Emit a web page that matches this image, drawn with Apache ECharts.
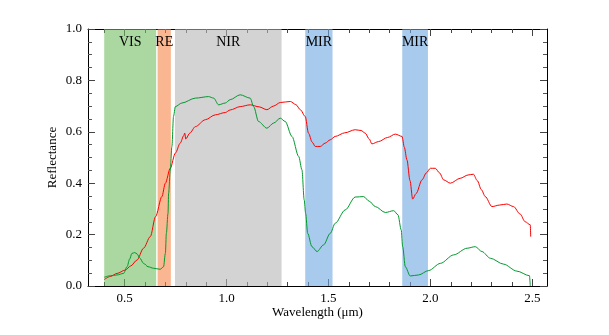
<!DOCTYPE html>
<html><head><meta charset="utf-8">
<script src="https://cdn.jsdelivr.net/npm/echarts@6/dist/echarts.min.js"></script>
<style>html,body{margin:0;padding:0;background:#fff}#c{width:609px;height:335px}</style>
</head><body><div id="c"></div>
<script>
// ---- data ----
const redWl = [0.40,0.43,0.463,0.503,0.53,0.561,0.593,0.626,0.652,0.683,0.70,0.724,0.749,0.773,0.79,0.795,0.80,0.82,0.847,0.896,0.945,0.994,1.018,1.067,1.116,1.16,1.198,1.23,1.264,1.313,1.34,1.362,1.386,1.402,1.42,1.435,1.46,1.484,1.509,1.533,1.58,1.631,1.66,1.68,1.70,1.713,1.746,1.79,1.828,1.861,1.872,1.885,1.90,1.913,1.93,1.959,1.98,2.0,2.024,2.045,2.065,2.098,2.146,2.185,2.211,2.23,2.25,2.269,2.302,2.34,2.375,2.408,2.44,2.465,2.49,2.492];
const redR  = [0.025,0.037,0.049,0.062,0.078,0.101,0.147,0.192,0.27,0.348,0.40,0.458,0.517,0.556,0.585,0.595,0.572,0.595,0.62,0.647,0.666,0.675,0.685,0.698,0.705,0.697,0.686,0.70,0.714,0.718,0.706,0.686,0.66,0.595,0.56,0.543,0.543,0.556,0.569,0.582,0.596,0.608,0.605,0.595,0.572,0.553,0.562,0.578,0.591,0.582,0.54,0.491,0.41,0.338,0.36,0.413,0.44,0.458,0.458,0.44,0.413,0.40,0.419,0.432,0.435,0.41,0.375,0.348,0.309,0.315,0.319,0.309,0.28,0.25,0.238,0.192];
const greenWl = [0.40,0.43,0.463,0.495,0.512,0.525,0.536,0.55,0.561,0.575,0.593,0.615,0.642,0.675,0.691,0.70,0.705,0.713,0.716,0.724,0.732,0.74,0.749,0.781,0.847,0.912,0.937,0.961,0.994,1.018,1.067,1.116,1.133,1.157,1.198,1.231,1.264,1.288,1.321,1.354,1.37,1.381,1.388,1.398,1.419,1.444,1.476,1.509,1.533,1.582,1.631,1.672,1.70,1.73,1.779,1.82,1.841,1.857,1.864,1.877,1.901,1.942,1.991,2.049,2.114,2.18,2.22,2.253,2.294,2.359,2.424,2.486,2.49];
const greenR  = [0.034,0.04,0.043,0.049,0.075,0.105,0.127,0.13,0.125,0.108,0.088,0.075,0.069,0.065,0.075,0.127,0.205,0.283,0.361,0.45,0.543,0.66,0.698,0.712,0.731,0.737,0.731,0.705,0.712,0.725,0.744,0.731,0.698,0.64,0.614,0.634,0.653,0.64,0.582,0.504,0.452,0.335,0.283,0.205,0.153,0.134,0.16,0.205,0.244,0.296,0.346,0.348,0.33,0.309,0.286,0.293,0.277,0.218,0.153,0.075,0.039,0.043,0.06,0.088,0.121,0.147,0.153,0.134,0.108,0.085,0.058,0.04,0.0];
const bandNames = ['VIS','RE','NIR','MIR','MIR'];
const bandStart = [0.40,0.662,0.747,1.386,1.862];
const bandEnd   = [0.655,0.727,1.27,1.52,1.988];
const xMajorTicks = [0.5,1.0,1.5,2.0,2.5];
const xMinorTicks = [0.4,0.6,0.7,0.8,0.9,1.1,1.2,1.3,1.4,1.6,1.7,1.8,1.9,2.1,2.2,2.3,2.4];

// ---- styles ----
const FONT = 'Liberation Serif';
const bandColors = ['#71be61','#f78548','#b6b6b6','#6ea7df','#6ea7df'];
const XMIN = 0.3205, XMAX = 2.572;

const zip = (a,b) => a.map((v,i)=>[v,b[i]]);

function xAxisDef(pos, ticks, len, showLabel, showLine, name) {
  return {
    type:'value', position: pos, min: XMIN, max: XMAX, gridIndex:0,
    name: name || '', nameLocation:'middle', nameGap: 20, nameMoveOverlap:false,
    nameTextStyle:{fontFamily:FONT,fontSize:13,color:'#000'},
    axisLine:{show:showLine,lineStyle:{color:'#000',width:1}},
    axisTick:{show:true,inside:true,length:len,customValues:ticks,lineStyle:{color:'#444',width:1}},
    axisLabel:{show:showLabel,customValues:ticks,margin:6,fontFamily:FONT,fontSize:13,color:'#000',formatter:v=>v.toFixed(1)},
    splitLine:{show:false}
  };
}
function yAxisDef(pos, showLabel, name) {
  return {
    type:'value', position: pos, min:0, max:1, interval:0.2,
    name: name||'', nameLocation:'middle', nameGap: 29, nameMoveOverlap:false,
    nameTextStyle:{fontFamily:FONT,fontSize:13,color:'#000'},
    axisLine:{show:true,lineStyle:{color:'#000',width:1}},
    axisTick:{show:true,inside:true,length:7,lineStyle:{color:'#444'}},
    minorTick:{show:true,splitNumber:4,length:4,lineStyle:{color:'#555'}},
    axisLabel:{show:showLabel,margin:6,fontFamily:FONT,fontSize:13,color:'#000',formatter:v=>v.toFixed(1)},
    splitLine:{show:false}
  };
}

const chart = echarts.init(document.getElementById('c'));
chart.setOption({
  animation:false,
  backgroundColor:'#fff',
  grid:{left:88,right:62,top:29,bottom:49},
  xAxis:[
    xAxisDef('bottom', xMajorTicks, 7, true, true, 'Wavelength (\u03bcm)'),
    xAxisDef('bottom', xMinorTicks, 4, false, false),
    xAxisDef('top', xMajorTicks, 7, false, true),
    xAxisDef('top', xMinorTicks, 4, false, false)
  ],
  yAxis:[ yAxisDef('left', true, 'Reflectance'), yAxisDef('right', false) ],
  series:[
    {type:'line', name:'red', data: zip(redWl, redR), xAxisIndex:0, yAxisIndex:0,
     showSymbol:false, symbol:'none', smooth:0.3, smoothMonotone:'x',
     lineStyle:{color:'#ff0000',width:1}, z:2},
    {type:'line', name:'green', data: zip(greenWl, greenR), xAxisIndex:0, yAxisIndex:0,
     showSymbol:false, symbol:'none', smooth:0.3, smoothMonotone:'x',
     lineStyle:{color:'#00992e',width:1}, z:2},
    {type:'line', name:'bands', data: [], xAxisIndex:0, yAxisIndex:0, z:5,
     markArea:{
       silent:true,
       label:{show:true, position:'insideTop', distance:6, color:'#000', fontFamily:FONT, fontSize:14},
       data: bandNames.map((n,i)=>[
         {name:n, xAxis:bandStart[i], yAxis:0, itemStyle:{color:bandColors[i], opacity:0.6}},
         {xAxis:bandEnd[i], yAxis:1}
       ])
     }}
  ]
});
</script></body></html>
